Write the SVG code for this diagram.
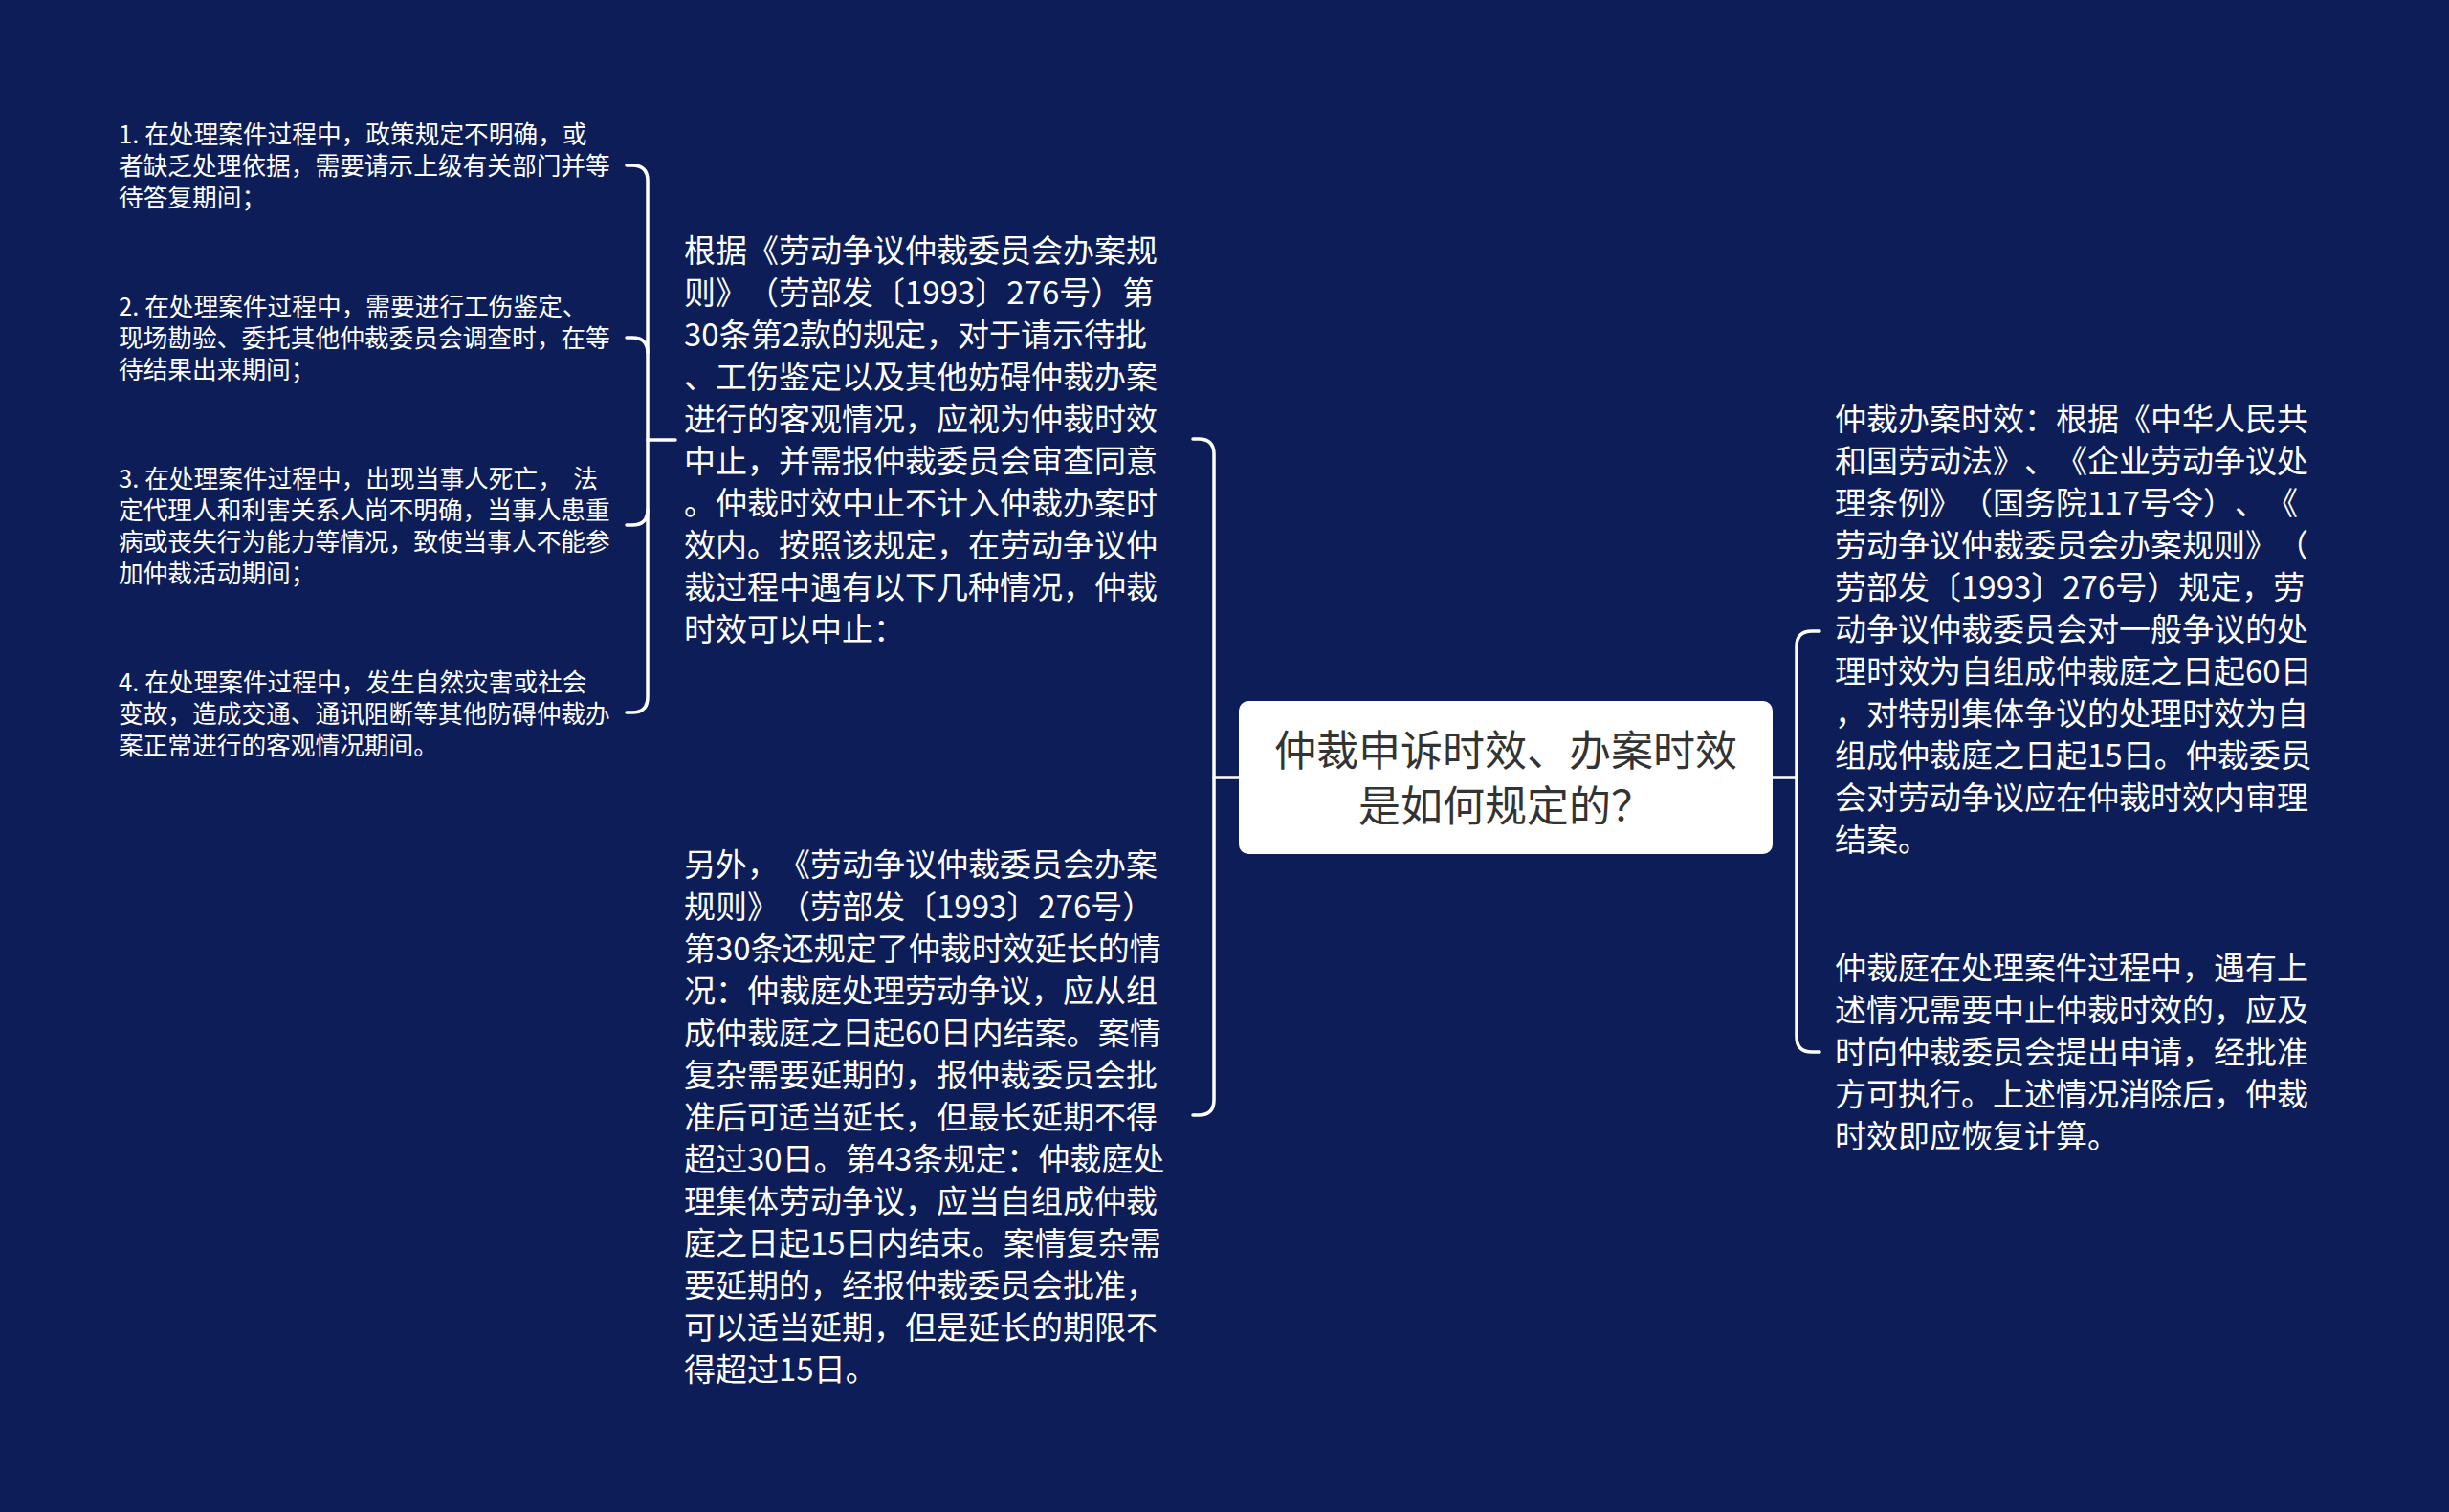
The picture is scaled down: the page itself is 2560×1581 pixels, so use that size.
<svg xmlns="http://www.w3.org/2000/svg" width="2560" height="1581" viewBox="0 0 2560 1581">
<style>
.bg{fill:#0c1d58}
.conn{fill:none;stroke:#ffffff;stroke-width:3.5;stroke-linecap:round}
text{text-spacing-trim:space-all;font-kerning:none}
.t{font-family:"Noto Sans CJK SC","Microsoft YaHei",sans-serif;fill:#ffffff;white-space:pre}
.main{font-size:33px}
.leaf{font-size:25.7px}
.center-box{fill:#ffffff}
.center-text{font-family:"Noto Sans CJK SC","Microsoft YaHei",sans-serif;font-size:44px;fill:#333333;text-anchor:middle}
</style>
<rect class="bg" x="0" y="0" width="2560" height="1581"/>
<g id="connectors">
<path class="conn" d="M1295,813 H1269"/>
<path class="conn" d="M1247,459 H1253 Q1269,459 1269,475 V1150 Q1269,1166 1253,1166 H1247"/>
<path class="conn" d="M706,460 H677"/>
<path class="conn" d="M655,173 H661 Q677,173 677,189 V729 Q677,745 661,745 H655"/>
<path class="conn" d="M655,353 H661 Q677,353 677,369"/>
<path class="conn" d="M655,549 H661 Q677,549 677,533"/>
<path class="conn" d="M1853,813 H1878"/>
<path class="conn" d="M1902,660 H1894 Q1878,660 1878,676 V1084 Q1878,1100 1894,1100 H1902"/>
</g>
<g id="center">
<rect class="center-box" x="1295" y="733" width="558" height="160" rx="10"/>
<text class="center-text" x="1574" y="801">仲裁申诉时效、办案时效</text>
<text class="center-text" x="1574" y="859">是如何规定的？</text>
</g>
<g id="node-left1">
<text class="t main" x="715" y="274">根据《劳动争议仲裁委员会办案规</text>
<text class="t main" x="715" y="318">则》（劳部发〔1993〕276号）第</text>
<text class="t main" x="715" y="362">30条第2款的规定，对于请示待批</text>
<text class="t main" x="715" y="406">、工伤鉴定以及其他妨碍仲裁办案</text>
<text class="t main" x="715" y="450">进行的客观情况，应视为仲裁时效</text>
<text class="t main" x="715" y="494">中止，并需报仲裁委员会审查同意</text>
<text class="t main" x="715" y="538">。仲裁时效中止不计入仲裁办案时</text>
<text class="t main" x="715" y="582">效内。按照该规定，在劳动争议仲</text>
<text class="t main" x="715" y="626">裁过程中遇有以下几种情况，仲裁</text>
<text class="t main" x="715" y="670">时效可以中止：</text>
</g>
<g id="node-left2">
<text class="t main" x="715" y="916">另外，《劳动争议仲裁委员会办案</text>
<text class="t main" x="715" y="960">规则》（劳部发〔1993〕276号）</text>
<text class="t main" x="715" y="1004">第30条还规定了仲裁时效延长的情</text>
<text class="t main" x="715" y="1048">况：仲裁庭处理劳动争议，应从组</text>
<text class="t main" x="715" y="1092">成仲裁庭之日起60日内结案。案情</text>
<text class="t main" x="715" y="1136">复杂需要延期的，报仲裁委员会批</text>
<text class="t main" x="715" y="1180">准后可适当延长，但最长延期不得</text>
<text class="t main" x="715" y="1224">超过30日。第43条规定：仲裁庭处</text>
<text class="t main" x="715" y="1268">理集体劳动争议，应当自组成仲裁</text>
<text class="t main" x="715" y="1312">庭之日起15日内结束。案情复杂需</text>
<text class="t main" x="715" y="1356">要延期的，经报仲裁委员会批准，</text>
<text class="t main" x="715" y="1400">可以适当延期，但是延长的期限不</text>
<text class="t main" x="715" y="1444">得超过15日。</text>
</g>
<g id="leaf1">
<text class="t leaf" x="124" y="150">1. 在处理案件过程中，政策规定不明确，或</text>
<text class="t leaf" x="124" y="183">者缺乏处理依据，需要请示上级有关部门并等</text>
<text class="t leaf" x="124" y="216">待答复期间；</text>
</g>
<g id="leaf2">
<text class="t leaf" x="124" y="330">2. 在处理案件过程中，需要进行工伤鉴定、</text>
<text class="t leaf" x="124" y="363">现场勘验、委托其他仲裁委员会调查时，在等</text>
<text class="t leaf" x="124" y="396">待结果出来期间；</text>
</g>
<g id="leaf3">
<text class="t leaf" x="124" y="510">3. 在处理案件过程中，出现当事人死亡，  法</text>
<text class="t leaf" x="124" y="543">定代理人和利害关系人尚不明确，当事人患重</text>
<text class="t leaf" x="124" y="576">病或丧失行为能力等情况，致使当事人不能参</text>
<text class="t leaf" x="124" y="609">加仲裁活动期间；</text>
</g>
<g id="leaf4">
<text class="t leaf" x="124" y="723">4. 在处理案件过程中，发生自然灾害或社会</text>
<text class="t leaf" x="124" y="756">变故，造成交通、通讯阻断等其他防碍仲裁办</text>
<text class="t leaf" x="124" y="789">案正常进行的客观情况期间。</text>
</g>
<g id="node-right1">
<text class="t main" x="1918" y="450">仲裁办案时效：根据《中华人民共</text>
<text class="t main" x="1918" y="494">和国劳动法》、《企业劳动争议处</text>
<text class="t main" x="1918" y="538">理条例》（国务院117号令）、《</text>
<text class="t main" x="1918" y="582">劳动争议仲裁委员会办案规则》（</text>
<text class="t main" x="1918" y="626">劳部发〔1993〕276号）规定，劳</text>
<text class="t main" x="1918" y="670">动争议仲裁委员会对一般争议的处</text>
<text class="t main" x="1918" y="714">理时效为自组成仲裁庭之日起60日</text>
<text class="t main" x="1918" y="758">，对特别集体争议的处理时效为自</text>
<text class="t main" x="1918" y="802">组成仲裁庭之日起15日。仲裁委员</text>
<text class="t main" x="1918" y="846">会对劳动争议应在仲裁时效内审理</text>
<text class="t main" x="1918" y="890">结案。</text>
</g>
<g id="node-right2">
<text class="t main" x="1918" y="1024">仲裁庭在处理案件过程中，遇有上</text>
<text class="t main" x="1918" y="1068">述情况需要中止仲裁时效的，应及</text>
<text class="t main" x="1918" y="1112">时向仲裁委员会提出申请，经批准</text>
<text class="t main" x="1918" y="1156">方可执行。上述情况消除后，仲裁</text>
<text class="t main" x="1918" y="1200">时效即应恢复计算。</text>
</g>
</svg>
